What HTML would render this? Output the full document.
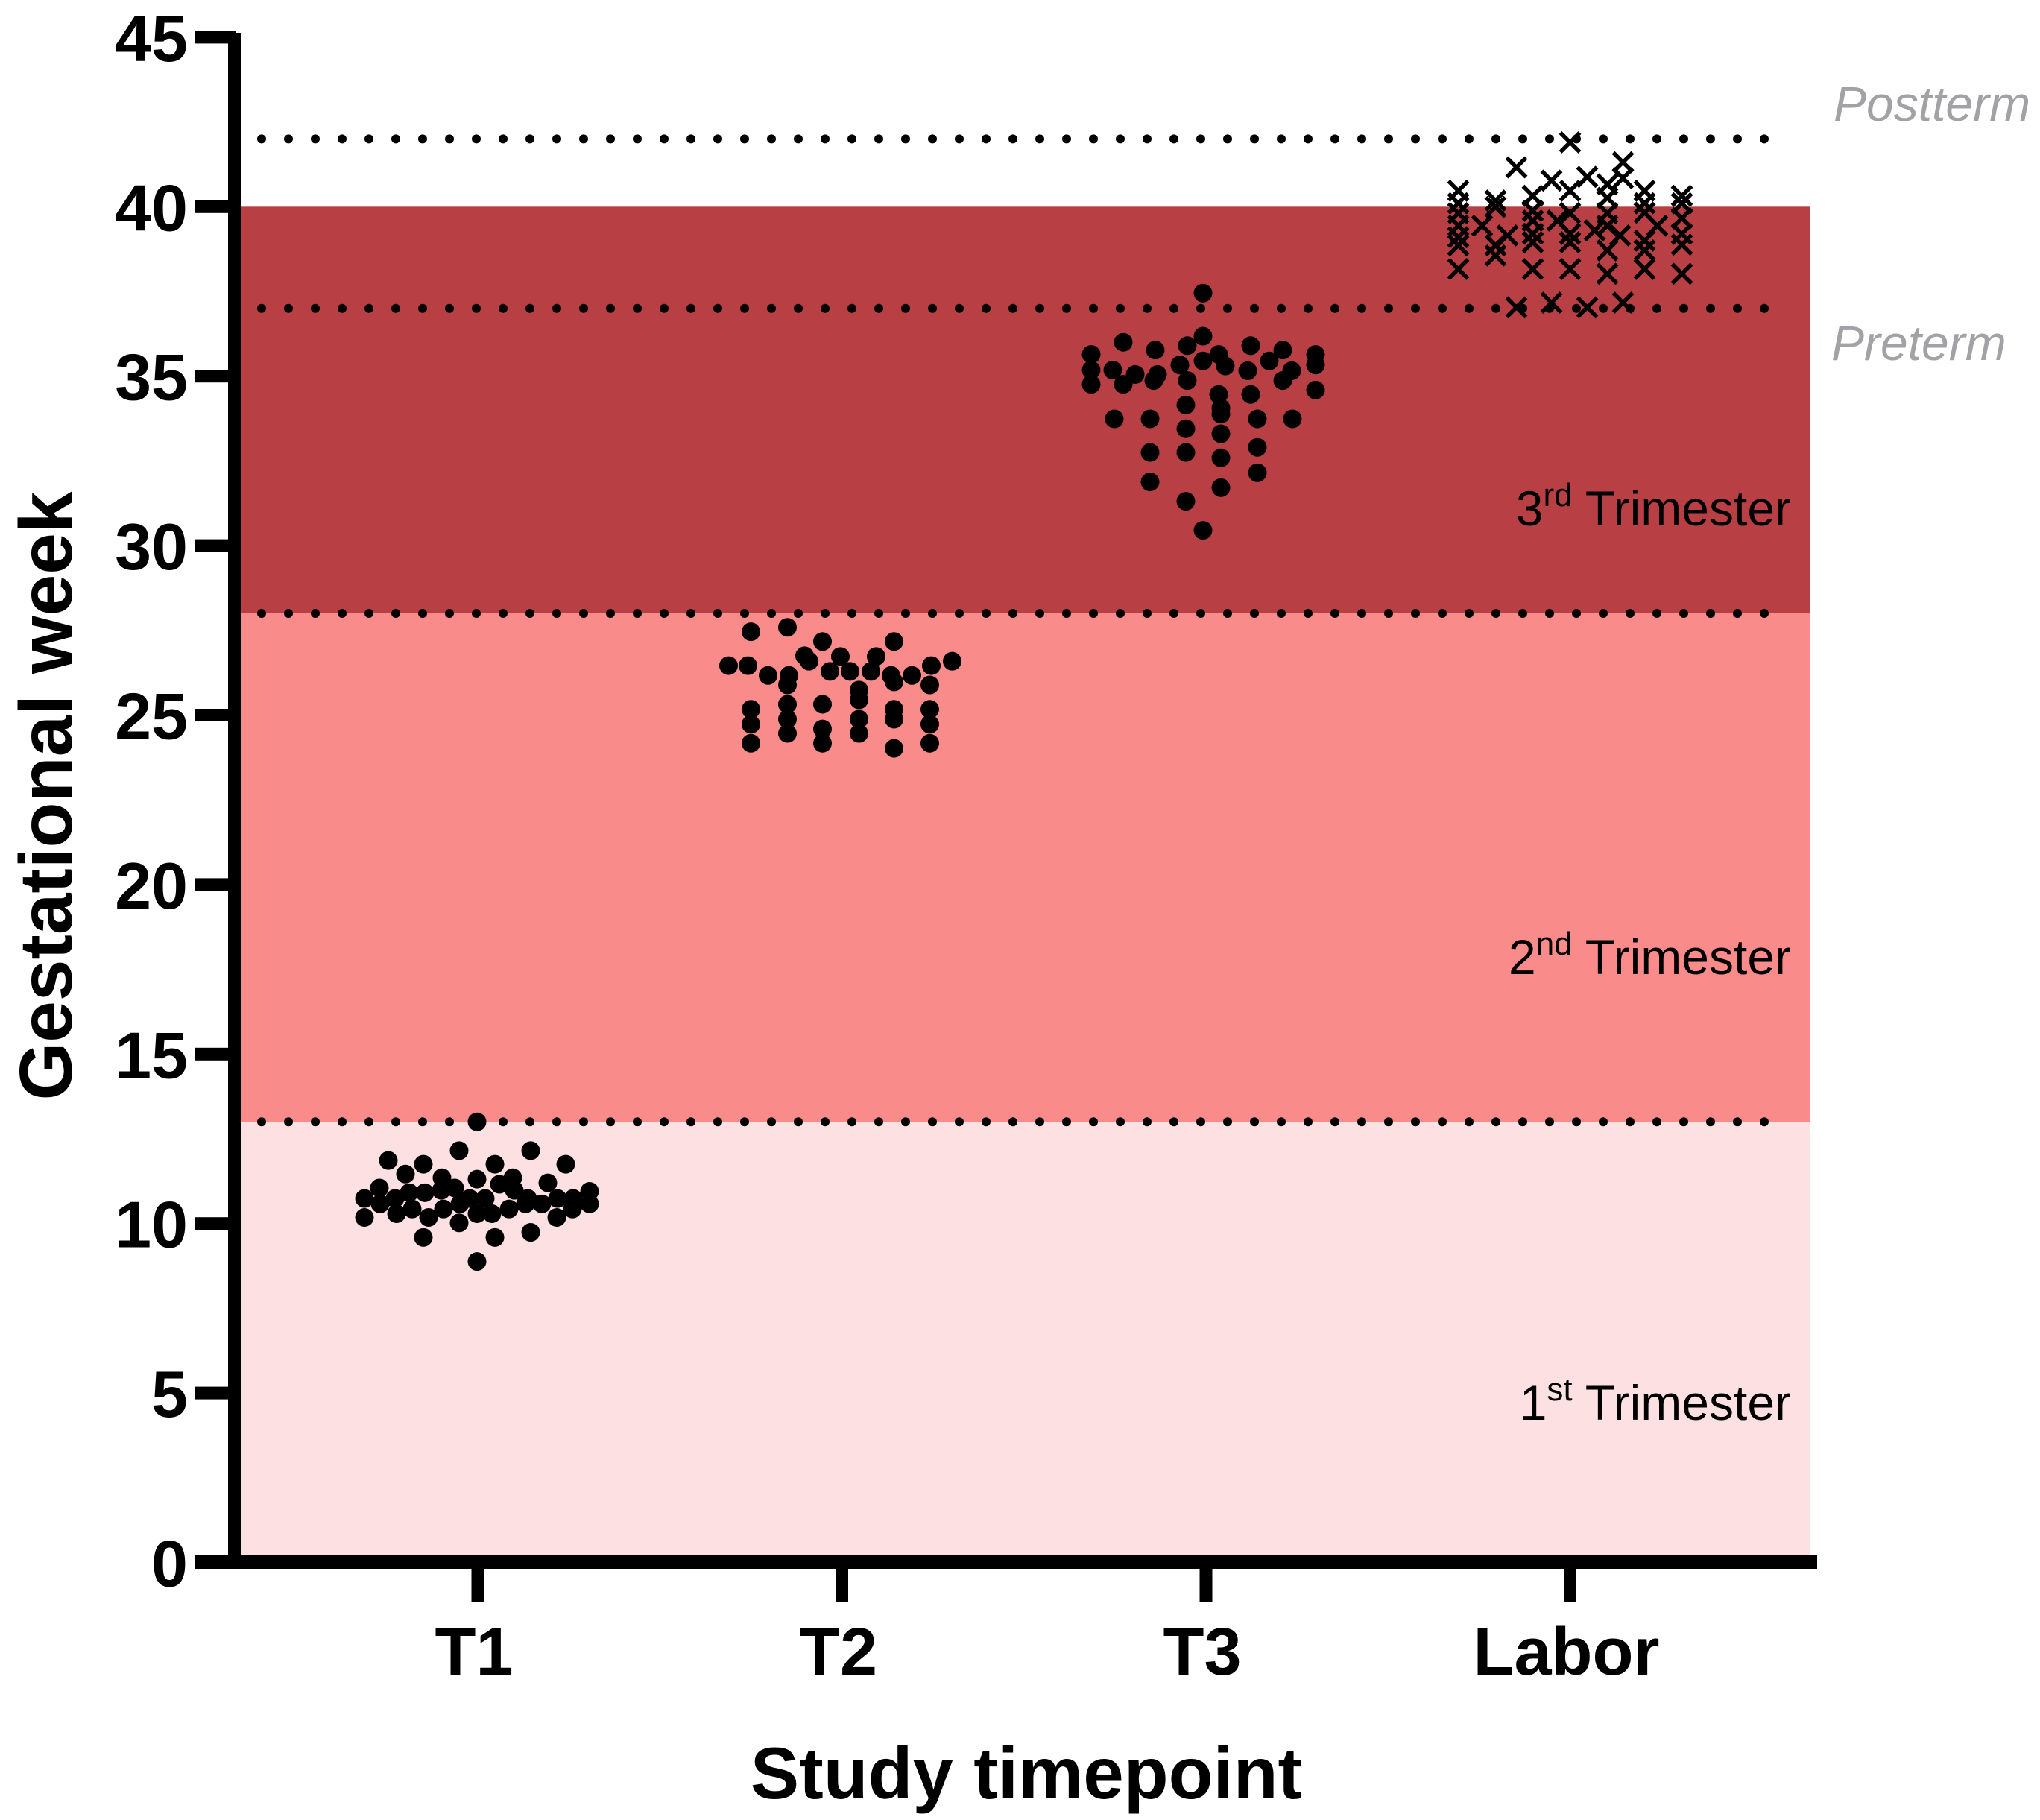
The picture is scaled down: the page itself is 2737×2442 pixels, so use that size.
<!DOCTYPE html>
<html>
<head>
<meta charset="utf-8">
<style>
html,body{margin:0;padding:0;background:#fff;}
svg{display:block;}
text{font-family:"Liberation Sans",Arial,sans-serif;}
</style>
</head>
<body>
<svg id="chart" width="2737" height="2442" viewBox="0 0 2737 2442" xmlns="http://www.w3.org/2000/svg">
  <g id="bands"></g>
  <g id="reflines"></g>
  <g id="labels">
    <text x="2403" y="1905" font-size="66" text-anchor="end" fill="#000">1<tspan dy="-26" font-size="44">st</tspan><tspan dy="26"> Trimester</tspan></text>
    <text x="2403" y="1307" font-size="66" text-anchor="end" fill="#000">2<tspan dy="-26" font-size="44">nd</tspan><tspan dy="26"> Trimester</tspan></text>
    <text x="2403" y="705" font-size="66" text-anchor="end" fill="#000">3<tspan dy="-26" font-size="44">rd</tspan><tspan dy="26"> Trimester</tspan></text>
    <text x="2460" y="162" font-size="66" font-style="italic" fill="#a2a2a6">Postterm</text>
    <text x="2457" y="483" font-size="66" font-style="italic" fill="#a2a2a6">Preterm</text>
  </g>
  <g id="points"></g>
  <g id="axes"></g>
  <text x="1377" y="2413" font-size="98" font-weight="bold" text-anchor="middle">Study timepoint</text>
  <text transform="translate(96,1068) rotate(-90)" font-size="100" font-weight="bold" text-anchor="middle">Gestational week</text>
</svg>
<script>
const categories = ["T1","T2","T3","Labor"];
const yTicks = [0,5,10,15,20,25,30,35,40,45];
const bandStarts = [0,13,28];
const bandEnds = [13,28,40];
const refLines = [13,28,37,42];

// values (gestational week) and beeswarm jitter offsets per timepoint
const t1Weeks = [13.0,12.15,12.15,11.86,11.75,11.75,11.75,11.46,11.31,11.35,11.35,11.2,11.16,11.05,11.05,10.91,10.91,10.98,10.74,10.74,10.74,10.74,10.98,10.74,10.74,10.74,10.95,10.58,10.58,10.58,10.58,10.58,10.43,10.43,10.29,10.29,10.43,10.43,10.18,10.29,10.18,10.18,10.02,9.59,9.59,9.74,8.88];
const t1Jitter = [-1,-25,71,-120,-73,23,118,-97,-1,-48,47,94,29,-132,-31,-92,-71,-49,-152,-111,-11,10,49,67,107,128,150,-131,-24,64,86,150,-88,-46,-1,19,42,127,-152,-109,-66,106,-25,-73,23,71,-1];
const t2Weeks = [27.46,27.59,27.17,27.17,26.75,26.59,26.73,26.73,26.46,26.46,26.59,26.46,26.17,26.17,26.29,26.29,26.29,26.17,26.17,25.98,25.89,25.89,25.74,25.45,25.17,25.32,25.32,25.17,25.17,24.73,24.88,24.88,24.88,24.73,24.59,24.46,24.46,24.17,24.17,24.17,24.02];
const t2Jitter = [-122,-73,-26,70,-50,-44,-2,46,-152,-126,148,120,-99,-71,-16,11,39,66,94,70,-73,118,23,23,-122,-73,-26,70,118,-122,-73,23,70,118,-26,-73,23,-122,-26,118,70];
const t3Weeks = [37.45,36.18,36.0,35.9,35.9,35.77,35.77,35.64,35.64,35.64,35.45,35.45,35.33,35.3,35.33,35.18,35.18,35.05,35.05,35.16,35.16,34.76,34.76,34.87,34.87,34.87,34.59,34.46,34.46,34.15,34.06,33.88,33.74,33.74,33.74,33.74,33.45,33.3,32.75,32.75,32.9,32.59,32.15,31.88,31.71,31.31,30.45];
const t3Jitter = [-4,-4,-111,-25,60,-68,103,-154,147,17,-4,85,-35,26,147,-154,-125,-95,-65,56,115,-111,-154,-70,-25,103,147,17,60,-27,20,20,-123,-75,69,116,-27,20,-75,-27,69,20,69,-75,20,-27,-4];
const laborWeeks = [41.9,41.16,41.31,40.84,40.77,40.88,40.47,40.47,40.32,40.66,40.47,40.32,40.18,39.99,40.1,40.26,40.1,40.1,39.81,39.88,39.81,39.81,39.82,39.66,39.59,39.59,39.44,39.44,39.44,39.44,39.3,39.15,39.2,39.2,39.2,39.15,39.1,39.0,38.86,38.95,38.95,38.88,38.86,38.71,38.56,38.71,38.16,38.16,38.16,38.02,38.16,38.02,37.03,37.17,37.03,37.17];
const laborJitter = [0,-72,71,71,-25,23,-150,0,-50,50,100,150,-100,-100,-150,50,100,150,-150,-50,0,50,100,150,-50,-17,-118,-150,50,117,33,-84,0,-50,150,67,-150,100,-100,-50,0,150,-150,50,-100,100,-150,-50,0,50,100,150,-72,-25,23,71];

const NS = "http://www.w3.org/2000/svg";
const XEND = 2438, Y0 = 2096.5, PXW = 45.48;
const catX0 = 641, catStep = 488.5;
function yScale(v){ return Y0 - v * PXW; }
function xScale(i){ return catX0 + i * catStep; }
function mk(tag, attrs, parent){
  const el = document.createElementNS(NS, tag);
  for (const k in attrs) el.setAttribute(k, attrs[k]);
  parent.appendChild(el);
  return el;
}

const bandColors = ["#fde0e1","#f98b8a","#b84044"];
const bandNames = ["first-trimester-band","second-trimester-band","third-trimester-band"];
const gB = document.getElementById("bands");
bandStarts.forEach((s, i) => {
  const r = mk("rect", {x: 322, y: yScale(bandEnds[i]), width: 2429 - 322, height: yScale(s) - yScale(bandEnds[i]), fill: bandColors[i]}, gB);
  
  
});

const gR = document.getElementById("reflines");
refLines.forEach(v => {
  const g = mk("g", {}, gR);
  
  
  for (let x = 351; x <= 2400; x += 36) {
    mk("circle", {cx: x, cy: yScale(v), r: 6, fill: "#000"}, g);
  }
});

const gP = document.getElementById("points");
const seriesW = [t1Weeks, t2Weeks, t3Weeks];
const seriesJ = [t1Jitter, t2Jitter, t3Jitter];
seriesW.forEach((ws, si) => {
  const g = mk("g", {}, gP);
  
  
  ws.forEach((w, i) => {
    const c = mk("circle", {cx: xScale(si) + seriesJ[si][i], cy: yScale(w), r: 12.5, fill: "#000"}, g);
    
    
  });
});
const gL = mk("g", {}, gP);


laborWeeks.forEach((w, i) => {
  const cx = xScale(3) + laborJitter[i], cy = yScale(w), h = 13;
  const p = mk("path", {d: `M${cx-h},${cy-h}L${cx+h},${cy+h}M${cx+h},${cy-h}L${cx-h},${cy+h}`, stroke: "#000", "stroke-width": 5.5, fill: "none"}, gL);
  
  
});

const gA = document.getElementById("axes");
const ya = mk("rect", {x: 306, y: 44, width: 17, height: 2105 - 44}, gA);


const xa = mk("rect", {x: 261, y: 2087, width: XEND - 261, height: 18}, gA);


yTicks.forEach(v => {
  const t = mk("rect", {x: 261, y: yScale(v) - 8.5, width: 55, height: 17}, gA);
  
  
  const lb = mk("text", {x: 252, y: yScale(v) + 32, "font-size": 88, "font-weight": "bold", "text-anchor": "end"}, gA);
  lb.textContent = v;
  
  
});
categories.forEach((c, i) => {
  const t = mk("rect", {x: xScale(i) - 8.5, y: 2100, width: 17, height: 50}, gA);
  
  
  const lb = mk("text", {x: xScale(i) - 5, y: 2247, "font-size": 90, "font-weight": "bold", "text-anchor": "middle"}, gA);
  lb.textContent = c;
  
  
});
</script>
</body>
</html>
